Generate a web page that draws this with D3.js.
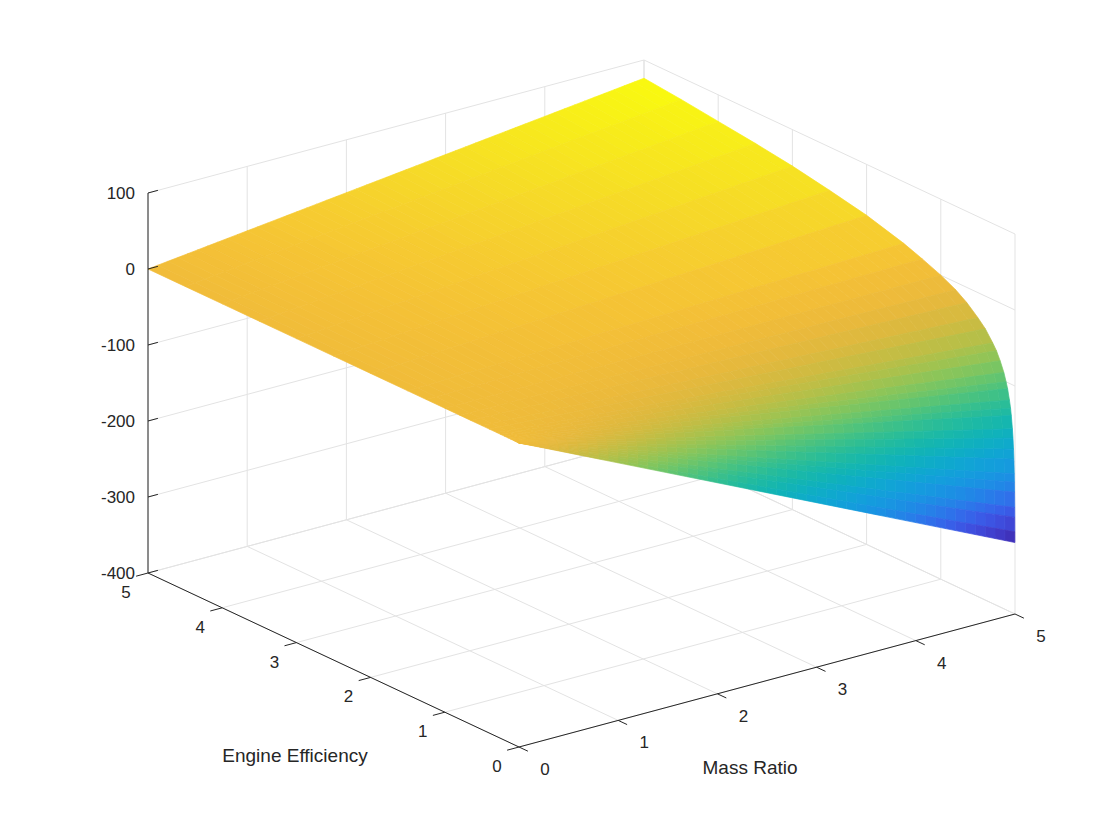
<!DOCTYPE html>
<html><head><meta charset="utf-8">
<script src="https://cdn.jsdelivr.net/npm/d3@7"></script>
<style>body{margin:0;background:#fff}svg{display:block}text{font-family:"Liberation Sans",Arial,sans-serif;fill:#262626}</style>
</head><body><svg id="c" width="1120" height="840"></svg>
<script>
const massTicks = [0,1,2,3,4,5];
const effTicks = [0,1,2,3,4,5];
const zTicks = [-400,-300,-200,-100,0,100];
const effSamples = [0.0015,0.002,0.003,0.004,0.006,0.008,0.01,0.015,0.02,0.027,0.035,0.05,0.06,0.075,0.1,0.12,0.15,0.2,0.25,0.3,0.4,0.5,0.65,0.8,1,1.25,1.5,2,2.5,3,3.5,4,4.5,5];
const zAtMass5 = [-306,-292,-273,-260,-240,-227,-216,-197,-184,-170,-158,-141,-132,-122,-108,-100,-89,-76,-65,-57,-43,-33,-20,-10,0,10,19,33,43,52,59,65,71,76];
const massSamples = d3.range(0,5.0001,0.1);

const svg = d3.select("#c");
const O=[519,747], ex=[99.2,-26.6], ey=[-74.2,-34.8];
const zs = d3.scaleLinear().domain([-400,100]).range([0,-380]);
const P=(x,y,z)=>[O[0]+x*ex[0]+y*ey[0], O[1]+x*ex[1]+y*ey[1]+zs(z)];
const parula=d3.interpolateRgbBasis(["#3e26a8","#4353f1","#1f8ae7","#10a3dc","#0bb5b5","#33c08d","#84c95a","#cbbb3f","#f8b53c","#f5d92a","#f9fb0e"]);
const col=d3.scaleSequential(parula).domain([d3.min(zAtMass5),d3.max(zAtMass5)]);
const grid="#e3e3e3", ax="#262626";
const line=(a,b,c)=>svg.append("line").attr("x1",a[0]).attr("y1",a[1]).attr("x2",b[0]).attr("y2",b[1]).attr("stroke",c).attr("stroke-width",1);
massTicks.forEach(x=>line(P(x,0,-400),P(x,5,-400),grid));
effTicks.forEach(y=>line(P(0,y,-400),P(5,y,-400),grid));
massTicks.forEach(x=>line(P(x,5,-400),P(x,5,100),grid));
zTicks.forEach(z=>line(P(0,5,z),P(5,5,z),grid));
effTicks.forEach(y=>line(P(5,y,-400),P(5,y,100),grid));
zTicks.forEach(z=>line(P(5,0,z),P(5,5,z),grid));
const zOf=(i,j)=>massSamples[i]/5*zAtMass5[j];
const quads=[];
for(let i=0;i<massSamples.length-1;i++)for(let j=0;j<effSamples.length-1;j++){
  const pts=[[i,j],[i+1,j],[i+1,j+1],[i,j+1]].map(([a,b])=>P(massSamples[a],effSamples[b],zOf(a,b)));
  const zm=(zOf(i,j)+zOf(i+1,j)+zOf(i+1,j+1)+zOf(i,j+1))/4;
  quads.push({pts,zm,d:massSamples[i]+effSamples[j]});
}
quads.sort((a,b)=>b.d-a.d);
svg.append("g").selectAll("path").data(quads).join("path")
 .attr("d",q=>"M"+q.pts.join("L")+"Z").attr("fill",q=>col(q.zm)).attr("stroke",q=>col(q.zm)).attr("stroke-width",0.7);
line(P(0,0,-400),P(5,0,-400),ax);
line(P(0,0,-400),P(0,5,-400),ax);
line(P(0,5,-400),P(0,5,100),ax);
massTicks.forEach(x=>{const a=P(x,0,-400);line(a,[a[0]-ey[0]*0.12,a[1]-ey[1]*0.12],ax);
  svg.append("text").attr("x",a[0]+26).attr("y",a[1]+28).attr("text-anchor","middle").attr("font-size",17).text(x);});
effTicks.forEach(y=>{const a=P(0,y,-400);line(a,[a[0]-ex[0]*0.12,a[1]-ex[1]*0.12],ax);
  svg.append("text").attr("x",a[0]-22).attr("y",a[1]+25).attr("text-anchor","middle").attr("font-size",17).text(y);});
zTicks.forEach(z=>{const a=P(0,5,z);line(a,[a[0]+ex[0]*0.1,a[1]+ex[1]*0.1],ax);
  svg.append("text").attr("x",a[0]-13).attr("y",a[1]+6).attr("text-anchor","end").attr("font-size",17).text(z);});
svg.append("text").attr("x",750).attr("y",774).attr("text-anchor","middle").attr("font-size",19).text("Mass Ratio");
svg.append("text").attr("x",295).attr("y",762).attr("text-anchor","middle").attr("font-size",19).text("Engine Efficiency");
</script></body></html>
